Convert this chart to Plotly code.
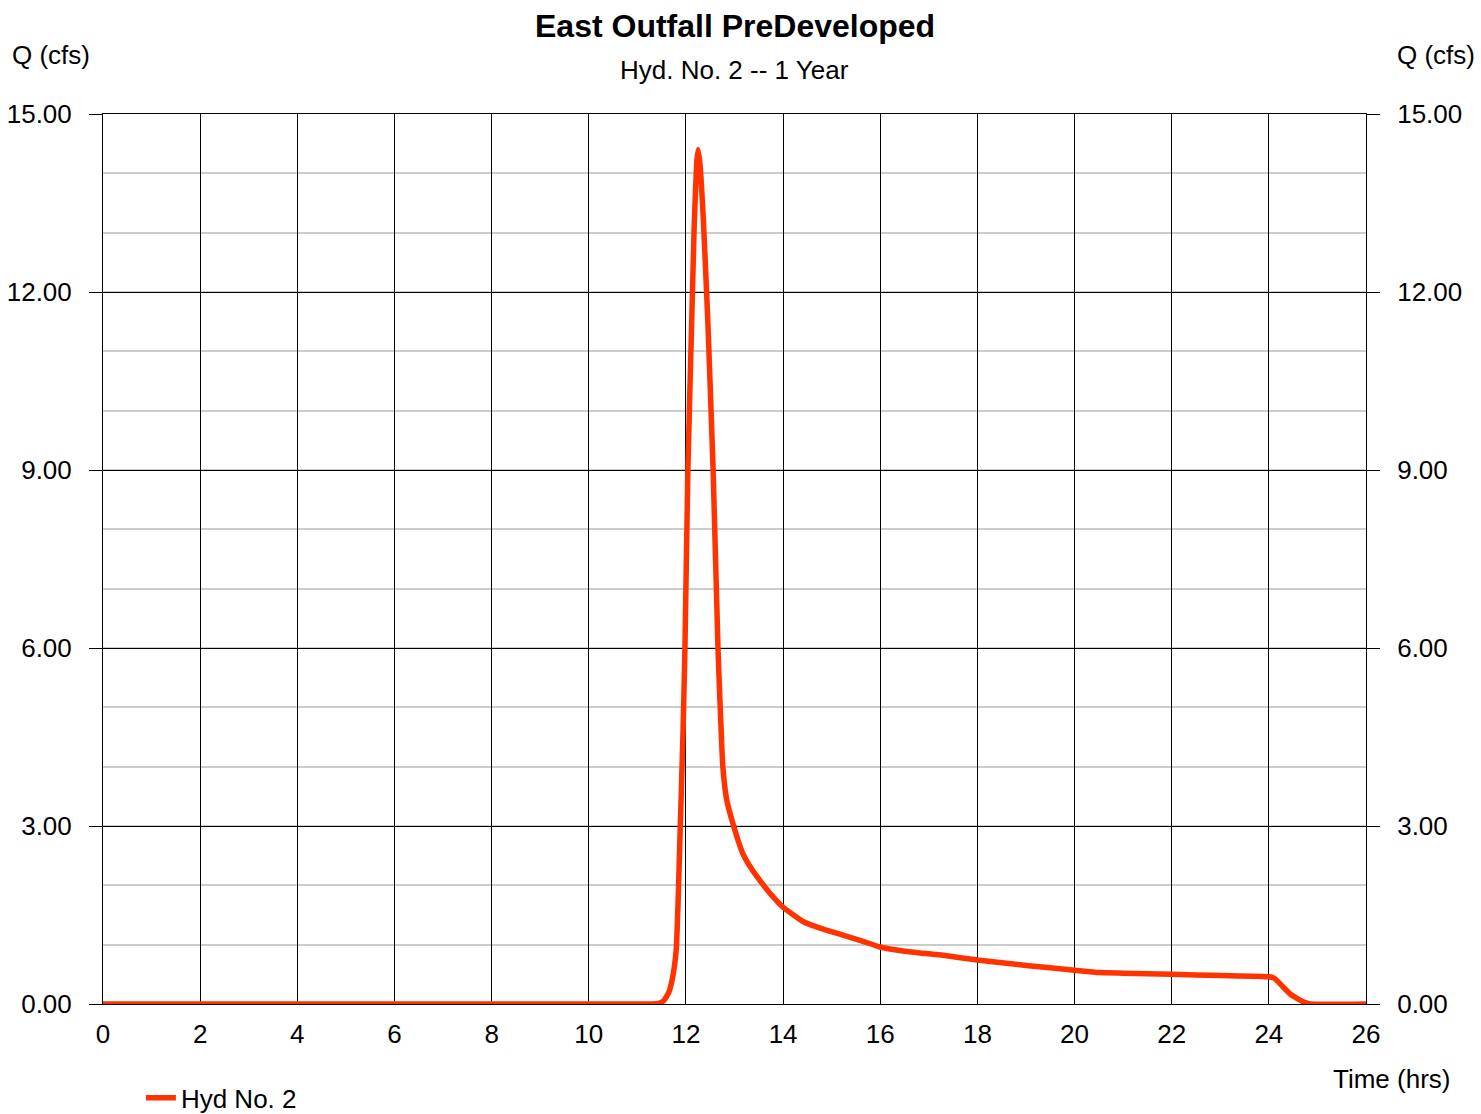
import plotly.graph_objects as go

time_hrs = [0, 11.3, 11.45, 11.55, 11.65, 11.72, 11.8, 11.84, 11.88, 11.94, 11.98, 12.04,
            12.12, 12.17, 12.22, 12.25, 12.29, 12.36, 12.45, 12.56, 12.66, 12.70, 12.76,
            12.84, 12.99, 13.17, 13.35, 13.6, 13.8, 14.0, 14.41, 14.76, 15.2, 15.6, 16.0,
            16.5, 17.3, 18.0, 19.0, 20.0, 20.5, 21.0, 22.0, 23.0, 24.0, 24.12, 24.29,
            24.45, 24.57, 24.7, 24.85, 26.0]
flow_cfs = [0, 0, 0.01, 0.06, 0.2, 0.42, 0.91, 1.75, 2.88, 4.57, 6.0, 9.0,
            11.53, 13.1, 14.15, 14.4, 14.15, 13.2, 11.53, 9.0, 6.0, 5.12, 4.0,
            3.44, 2.98, 2.54, 2.28, 2.0, 1.8, 1.63, 1.39, 1.28, 1.17, 1.07, 0.96,
            0.89, 0.82, 0.74, 0.65, 0.57, 0.53, 0.52, 0.50, 0.48, 0.46, 0.43, 0.29,
            0.16, 0.1, 0.04, 0, 0]

y_ticks = [0, 3, 6, 9, 12, 15]
x_ticks = list(range(0, 27, 2))
series_name = "Hyd No. 2"
title_text = "East Outfall PreDeveloped"
subtitle_text = "Hyd. No. 2 -- 1 Year"

FONT = "Arial, Liberation Sans, sans-serif"
RED = "#ff3300"

fig = go.Figure()
fig.add_trace(go.Scatter(x=time_hrs, y=flow_cfs, mode="lines", name=series_name,
                         line=dict(color=RED, width=5.5, shape="spline", smoothing=0.4),
                         cliponaxis=False))
fig.add_trace(go.Scatter(x=time_hrs, y=flow_cfs, mode="lines", yaxis="y2",
                         line=dict(color="rgba(0,0,0,0)", width=0), showlegend=False,
                         hoverinfo="skip"))

yaxis_common = dict(range=[0, 15], tickvals=y_ticks, tickformat=".2f",
                    ticks="outside", ticklen=13, tickcolor="black", tickwidth=1,
                    tickfont=dict(family=FONT, size=26, color="black"),
                    zeroline=False, ticklabelstandoff=12, automargin=False)

fig.update_layout(
    width=1481, height=1114,
    paper_bgcolor="white", plot_bgcolor="white",
    margin=dict(l=103, r=115, t=114, b=110, autoexpand=False),
    font=dict(family=FONT, size=26, color="black"),
    showlegend=True,
    legend=dict(orientation="h", x=0.03, xanchor="left", y=-0.079, yanchor="top",
                font=dict(family=FONT, size=26, color="black"), bgcolor="rgba(0,0,0,0)"),
    xaxis=dict(range=[0, 26], tickvals=x_ticks, showgrid=True, gridcolor="black",
               gridwidth=1, showline=True, linecolor="black", linewidth=1, mirror=True,
               ticks="", zeroline=False, ticklabelstandoff=7, automargin=False,
               tickfont=dict(family=FONT, size=26, color="black")),
    yaxis=dict(**yaxis_common, showgrid=True, gridcolor="black", gridwidth=1,
               showline=True, linecolor="black", linewidth=1, mirror=True,
               minor=dict(dtick=1, tick0=0, showgrid=True, gridcolor="#cccccc",
                          gridwidth=2, ticks="")),
    yaxis2=dict(**yaxis_common, overlaying="y", side="right", showgrid=False,
                showline=False),
    annotations=[
        dict(text="<b>" + title_text + "</b>", x=0.5, y=(1004 - 26) / 890, xref="paper",
             yref="paper", showarrow=False, font=dict(size=32), xanchor="center",
             yanchor="middle"),
        dict(text=subtitle_text, x=0.5, y=(1004 - 70) / 890, xref="paper", yref="paper",
             showarrow=False, font=dict(size=26), xanchor="center", yanchor="middle"),
        dict(text="Q (cfs)", x=(10 - 103) / 1263, y=(1004 - 55) / 890, xref="paper",
             yref="paper", showarrow=False, xanchor="left", yanchor="middle"),
        dict(text="Q (cfs)", x=(1477 - 103) / 1263, y=(1004 - 55) / 890, xref="paper",
             yref="paper", showarrow=False, xanchor="right", yanchor="middle"),
        dict(text="Time (hrs)", x=(1452 - 103) / 1263, y=(1004 - 1079) / 890,
             xref="paper", yref="paper", showarrow=False, xanchor="right",
             yanchor="middle"),
    ],
)

fig.write_html("out.html", post_script="document.body.style.margin='0';",
               config={"displayModeBar": False})
